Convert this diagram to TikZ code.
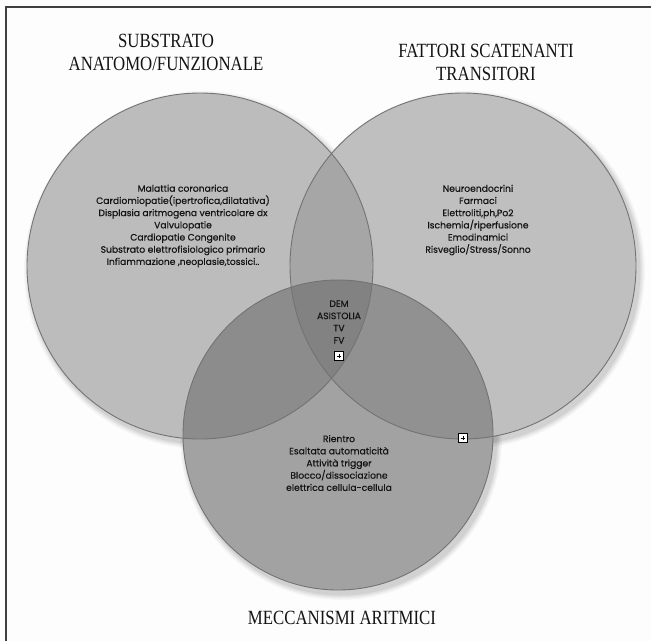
\documentclass[tikz,border=0pt]{standalone}
\usepackage{fontspec}
\setmainfont{Liberation Serif}
\newfontfamily\gothic[FakeBold=0.5]{Poppins}
\begin{document}
\begin{tikzpicture}[x=1pt,y=-1pt,
  title/.style={font=\fontsize{16.8}{20}\selectfont, text=black!92, align=center, inner sep=0pt},
  body/.style={font=\gothic\fontsize{9.2}{12.2}\selectfont, text=black!92, align=center, inner sep=0pt},
  plusbox/.style={draw=black, fill=white, line width=0.8pt, minimum size=8.5pt, inner sep=0pt},
  rim/.style={draw=black!55, line width=0.9pt}]
\definecolor{bg}{HTML}{FDFDFD}
\definecolor{cL}{HTML}{BCBCBC}
\definecolor{cR}{HTML}{BFBFBF}
\definecolor{cB}{HTML}{A2A2A2}
\definecolor{cLR}{HTML}{A6A6A6}
\definecolor{cLB}{HTML}{8C8C8C}
\definecolor{cRB}{HTML}{919191}
\definecolor{cLRB}{HTML}{828282}
\fill[bg] (0,0) rectangle (651,641);
\useasboundingbox (0,0) rectangle (651,641);
\draw[line width=1.4pt, color=black!75] (6,641) -- (6,7) -- (651,7);
% soft shadows
\foreach \d/\o in {6/0.03,4.5/0.04,3/0.05,1.5/0.06}{
  \fill[black, opacity=\o] (203,270) circle ({173pt+\d pt});
  \fill[black, opacity=\o] (466,270) circle ({173pt+\d pt});
  \fill[black, opacity=\o] (341,439) circle ({155pt+\d pt});
}
% base fills
\fill[cL] (200,266) circle (173pt);
\fill[cR] (463,266) circle (173pt);
\fill[cB] (338,435) circle (155pt);
% intersections
\begin{scope}
  \clip (200,266) circle (173pt);
  \fill[cLR] (463,266) circle (173pt);
  \fill[cLB] (338,435) circle (155pt);
  \clip (463,266) circle (173pt);
  \fill[cLRB] (338,435) circle (155pt);
\end{scope}
\begin{scope}
  \clip (463,266) circle (173pt);
  \begin{scope}[even odd rule]
    \clip (0,0) rectangle (651,641) (200,266) circle (173pt);
    \fill[cRB] (338,435) circle (155pt);
  \end{scope}
\end{scope}
% outlines
\draw[rim] (200,266) circle (173pt);
\draw[rim] (463,266) circle (173pt);
\draw[rim] (338,435) circle (155pt);
% titles
\node[title] (tL) at (166,52) {\scalebox{1}[1.2]{SUBSTRATO}\\[3pt]\scalebox{1}[1.2]{ANATOMO/FUNZIONALE}};
\node[title] (tR) at (486,62) {\scalebox{1}[1.2]{FATTORI SCATENANTI}\\[3pt]\scalebox{1}[1.2]{TRANSITORI}};
\node[title] (tB) at (342,618) {\scalebox{1}[1.2]{MECCANISMI ARITMICI}};
% circle texts
\node[body] (xL) at (183,226) {Malattia coronarica\\Cardiomiopatie(ipertrofica,dilatativa)\\Displasia aritmogena ventricolare dx\\Valvulopatie\\Cardiopatie Congenite\\Substrato elettrofisiologico primario\\Infiammazione ,neoplasie,tossici..};
\node[body] (xR) at (478,220) {Neuroendocrini\\Farmaci\\Elettroliti,ph,Po2\\Ischemia/riperfusione\\Emodinamici\\Risveglio/Stress/Sonno};
\node[body] (xC) at (339,322) {DEM\\ASISTOLIA\\TV\\FV};
\node[body] (xB) at (339,463) {Rientro\\Esaltata automaticità\\Attività trigger\\Blocco/dissociazione\\elettrica cellula-cellula};
% plus boxes
\node[plusbox] (p1) at (339,356) {};
\node[plusbox] (p2) at (463,438) {};
\foreach \p in {p1,p2}{
  \draw[line width=0.6pt] ([xshift=-2.2pt]\p.center) -- ([xshift=2.2pt]\p.center);
  \draw[line width=0.6pt] ([yshift=-2.2pt]\p.center) -- ([yshift=2.2pt]\p.center);
}
\end{tikzpicture}
\end{document}
